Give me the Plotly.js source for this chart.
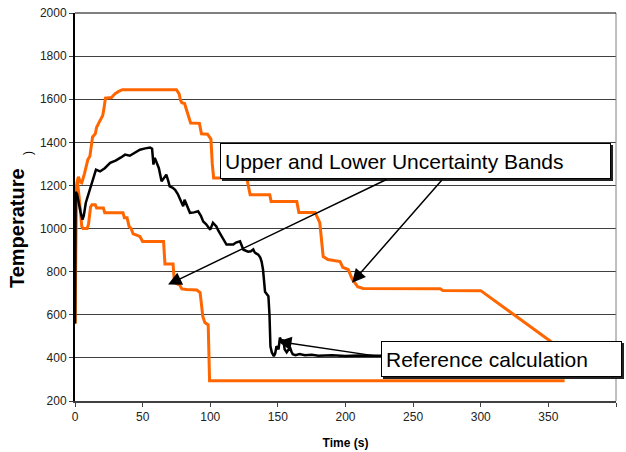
<!DOCTYPE html>
<html>
<head>
<meta charset="utf-8">
<script src="https://cdn.plot.ly/plotly-3.0.1.min.js"></script>
<style>html,body{margin:0;padding:0;background:#fff;}#chart{width:626px;height:452px;}</style>
</head>
<body>
<div id="chart"></div>
<script>
// Upper uncertainty band
const upperTime = [0, 0.5, 1.5, 2.5, 4, 5, 7, 8.5, 9.5, 11, 12, 13, 15, 16, 18, 20.5, 21.5, 22.5, 27, 29.5, 32, 35, 75, 77, 78, 79, 81, 82.5, 85.5, 92, 93.5, 98, 100.5, 101.5, 102.5, 127, 129.5, 144, 145, 164, 165.5, 177.5, 181, 183.5, 187, 196, 198, 202, 205, 209, 213, 270, 272, 300, 362];
const upperTemp = [560, 1150, 1215, 1240, 1215, 1212, 1255, 1300, 1320, 1335, 1380, 1425, 1440, 1470, 1495, 1525, 1560, 1605, 1608, 1625, 1635, 1644, 1644, 1625, 1595, 1584, 1580, 1551, 1490, 1488, 1440, 1438, 1415, 1300, 1235, 1235, 1157, 1157, 1126, 1126, 1075, 1075, 1027, 870, 856, 847, 820, 810, 765, 730, 722, 721, 713, 712, 430];

// Lower uncertainty band
const lowerTime = [0, 1, 1.8, 3, 5, 6, 9, 10, 11.5, 12.5, 15, 16, 21, 22, 35.5, 36.5, 38.5, 40, 41.5, 43, 46, 48, 50, 65.5, 66.5, 72.5, 73.5, 77.5, 79, 82.5, 90, 92.5, 94.5, 96, 98.5, 99.5, 362];
const lowerTemp = [560, 1100, 1215, 1150, 1010, 1000, 1000, 1020, 1100, 1110, 1110, 1095, 1095, 1073, 1073, 1050, 1050, 1010, 1000, 975, 968, 963, 940, 940, 836, 836, 750, 737, 720, 717, 715, 703, 592, 564, 553, 294, 294];

// Reference calculation
const refTime = [0, 0.5, 1.5, 2.5, 4, 5.5, 6.5, 8, 9.5, 11, 12.5, 14, 15.5, 18.5, 22, 26, 30, 34, 37, 40.5, 44, 48, 52, 55.5, 57, 58, 59, 60.5, 62, 64, 66, 67.5, 69, 70, 72, 74, 76, 78, 80, 81, 83, 85, 88, 91, 93, 94.8, 97, 100, 102, 104.5, 106, 108.5, 110, 112, 115, 117, 119, 120.6, 122, 124.5, 127, 128, 130, 131.8, 133, 135.5, 137, 138, 139, 140.5, 143, 143.8, 144.5, 145.5, 147, 148, 149, 150.5, 151.5, 153, 154, 155, 156.5, 158, 159, 160, 161, 163, 166, 170, 175, 180, 190, 200, 210, 225, 240];
const refTemp = [560, 1170, 1160, 1120, 1080, 1041, 1060, 1120, 1150, 1190, 1219, 1250, 1273, 1265, 1280, 1305, 1315, 1330, 1343, 1338, 1350, 1366, 1372, 1376, 1370, 1297, 1328, 1306, 1280, 1219, 1240, 1250, 1220, 1196, 1190, 1180, 1160, 1130, 1103, 1134, 1100, 1073, 1075, 1080, 1060, 1033, 1020, 995, 1027, 1010, 990, 963, 945, 926, 926, 926, 935, 940, 941, 902, 893, 893, 895, 903, 888, 879, 865, 846, 810, 707, 686, 600, 454, 426, 408, 420, 454, 440, 494, 474, 485, 440, 426, 440, 449, 430, 417, 413, 418, 412, 415, 410, 412, 409, 411, 410, 410];

// Axis ticks
const xTicks = [0, 50, 100, 150, 200, 250, 300, 350, 400];
const yTicks = [200, 400, 600, 800, 1000, 1200, 1400, 1600, 1800, 2000];

const ORANGE = '#FF6600';
const FONT = 'Liberation Sans, Arial, Helvetica, sans-serif';

const traces = [
  {x: upperTime, y: upperTemp, type: 'scatter', mode: 'lines', line: {color: ORANGE, width: 3}, hoverinfo: 'skip'},
  {x: lowerTime, y: lowerTemp, type: 'scatter', mode: 'lines', line: {color: ORANGE, width: 3}, hoverinfo: 'skip'},
  {x: refTime, y: refTemp, type: 'scatter', mode: 'lines', line: {color: '#000000', width: 2.5}, hoverinfo: 'skip'}
];

function arrow(tipX, tipY, tailX, tailY) {
  return {x: tipX, y: tipY, ax: tailX, ay: tailY, xref: 'x', yref: 'y', axref: 'x', ayref: 'y',
    text: '', showarrow: true, arrowhead: 2, arrowsize: 1.8, arrowwidth: 1.5, arrowcolor: '#000', standoff: 0};
}
function box(label, x, y, w, h) {
  return {x: x, y: y, xref: 'x', yref: 'y', xanchor: 'left', yanchor: 'top', showarrow: false,
    text: label, align: 'left', width: w, height: h, borderpad: 4, borderwidth: 1,
    bordercolor: '#000', bgcolor: '#fff', font: {family: FONT, size: 21, color: '#000'}};
}
function shadow(x0, x1, y0, y1) {
  return {type: 'rect', xref: 'paper', yref: 'paper', x0: x0, x1: x1, y0: y0, y1: y1,
    fillcolor: '#222', line: {width: 0}, layer: 'above'};
}

const annotations = [
  arrow(68.8, 740, 231.4, 1231),
  arrow(204.8, 749, 272.1, 1231),
  arrow(150.1, 476, 225.5, 406),
  box('Upper and Lower Uncertainty Bands', 107.2, 1398, 381, 26),
  box('Reference calculation', 226.2, 480, 231, 26),
  {x: -0.107, y: 0.446, xref: 'paper', yref: 'paper', xanchor: 'center', yanchor: 'middle',
   text: '<b>Temperature</b>', textangle: -90,
   showarrow: false, font: {family: FONT, size: 20, color: '#000'}},
  {x: -0.087, y: 0.639, xref: 'paper', yref: 'paper', xanchor: 'center', yanchor: 'middle',
   text: ')', textangle: -90,
   showarrow: false, font: {family: FONT, size: 12, color: '#000'}}
];

const layout = {
  width: 626, height: 452,
  margin: {l: 75, r: 10, t: 13, b: 51, pad: 0},
  paper_bgcolor: '#fff', plot_bgcolor: '#fff',
  showlegend: false,
  font: {family: FONT, color: '#222'},
  xaxis: {
    range: [0, 400], tickvals: xTicks, ticktext: xTicks.map(String),
    showgrid: false, zeroline: false, showline: true, linecolor: '#404040', linewidth: 2,
    ticks: 'outside', ticklen: 4, tickcolor: '#404040', tickwidth: 1,
    tickfont: {family: FONT, size: 12, color: '#222'},
    title: {text: '<b>Time (s)</b>', font: {family: FONT, size: 12, color: '#000'}, standoff: 15}
  },
  yaxis: {
    range: [200, 2000], tickvals: yTicks, ticktext: yTicks.map(String),
    showgrid: true, gridcolor: '#404040', gridwidth: 1,
    zeroline: false, showline: true, linecolor: '#000', linewidth: 2,
    ticks: 'outside', ticklen: 4, tickcolor: '#404040', tickwidth: 1,
    tickfont: {family: FONT, size: 12, color: '#222'}
  },
  shapes: [
    {type: 'line', xref: 'paper', yref: 'paper', x0: 1, x1: 1, y0: 0, y1: 1, line: {color: '#808080', width: 1}},
    {type: 'line', xref: 'paper', yref: 'paper', x0: 0, x1: 1, y0: 1, y1: 1, line: {color: '#000', width: 1}},
    shadow(0.2717, 0.9945, 0.6598, 0.567),
    shadow(0.5693, 1.0148, 0.1495, 0.0567)
  ],
  annotations: annotations
};

Plotly.newPlot('chart', traces, layout, {displayModeBar: false, staticPlot: true});
</script>
</body>
</html>
